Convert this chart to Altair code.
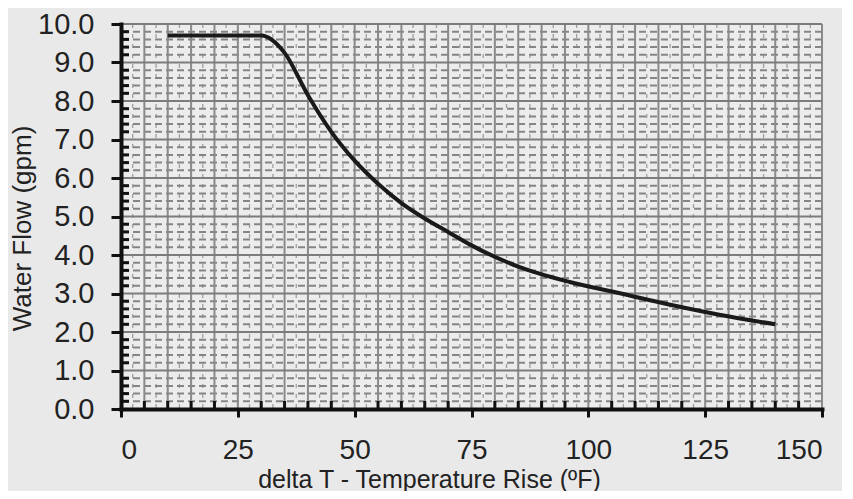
import altair as alt
import pandas as pd

# Curve
delta_t = [10, 30, 35, 40, 45, 50, 55, 60, 65, 70, 75, 85, 96, 107, 117, 128, 140]
flow = [9.7, 9.7, 9.25, 8.15, 7.2, 6.45, 5.85, 5.35, 4.95, 4.6, 4.25, 3.7, 3.3, 3.0, 2.72, 2.45, 2.2]

# Axis ticks / grid positions
x_labels = [0, 25, 50, 75, 100, 125, 150]
y_labels = [0, 1, 2, 3, 4, 5, 6, 7, 8, 9, 10]
x_grid_major = list(range(5, 155, 5))
x_grid_minor = [2.5 + 5 * i for i in range(30)]
y_grid_major = list(range(1, 11))
y_grid_minor = [round(i * 0.2, 1) for i in range(1, 50) if i % 5]
x_minor_ticks = [v for v in range(5, 150, 5) if v % 25]

W, H = 701, 385
FONT = "Liberation Sans"

xs = alt.Scale(domain=[0, 150], nice=False, zero=False)
ys = alt.Scale(domain=[0, 10], nice=False, zero=False)

xaxis = alt.Axis(
    values=x_labels, format="d", grid=False, zindex=2,
    title="delta T - Temperature Rise (ºF)",
    titleFont=FONT, titleFontSize=25, titleFontWeight="normal", titleColor="#222222",
    titleX=308, titleY=58, titleBaseline="top", titleAlign="center",
    labelFont=FONT, labelFontSize=28, labelColor="#222222", labelPadding=19,
    tickSize=8, tickWidth=3, tickColor="#111111",
    domainColor="#111111", domainWidth=4, domainCap="square",
)
yaxis = alt.Axis(
    values=y_labels, format=".1f", grid=False, zindex=2,
    title="Water Flow (gpm)",
    titleFont=FONT, titleFontSize=26, titleFontWeight="normal", titleColor="#222222",
    titleX=-99, titleY=204, titleAngle=-90, titleAlign="center", titleBaseline="middle",
    labelFont=FONT, labelFontSize=29, labelColor="#222222", labelPadding=17,
    tickSize=10, tickWidth=3, tickColor="#111111",
    domainColor="#111111", domainWidth=4, domainCap="square",
)


def X(field):
    return alt.X(field, scale=xs, axis=xaxis)


def Y(field):
    return alt.Y(field, scale=ys, axis=yaxis)


grid_minor_h = alt.Chart(pd.DataFrame({"v": y_grid_minor})).mark_rule(
    color="#858585", strokeWidth=2, strokeDash=[7, 4]
).encode(y=Y("v:Q"))

grid_minor_v = alt.Chart(pd.DataFrame({"v": x_grid_minor})).mark_rule(
    color="#a0a0a0", strokeWidth=1.3, strokeDash=[4, 6]
).encode(x=X("v:Q"))

grid_major_h = alt.Chart(pd.DataFrame({"v": y_grid_major})).mark_rule(
    color="#7c7c7c", strokeWidth=2
).encode(y=Y("v:Q"))

grid_major_v = alt.Chart(pd.DataFrame({"v": x_grid_major})).mark_rule(
    color="#8a8a8a", strokeWidth=2
).encode(x=X("v:Q"))

x_minor = alt.Chart(pd.DataFrame({"v": x_minor_ticks})).mark_rule(
    color="#111111", strokeWidth=3
).encode(x=X("v:Q"), y=alt.value(H), y2=alt.value(H - 8))

y_minor = alt.Chart(pd.DataFrame({"v": y_grid_minor})).mark_rule(
    color="#111111", strokeWidth=3
).encode(y=Y("v:Q"), x=alt.value(0), x2=alt.value(8))

line = alt.Chart(pd.DataFrame({"t": delta_t, "f": flow})).mark_line(
    color="#1a1a1a", strokeWidth=4, interpolate="monotone"
).encode(x=X("t:Q"), y=Y("f:Q"))

chart = alt.layer(
    grid_minor_v, grid_minor_h, grid_major_v, grid_major_h, x_minor, y_minor, line
).properties(
    width=W, height=H,
    autosize=alt.AutoSizeParams(type="none"),
    padding={"left": 113, "top": 16, "right": 20, "bottom": 82},
    background="#e9e9e9",
).configure_view(stroke=None, fill="#ececec")

chart.save("out.html", embed_options={"renderer": "svg", "actions": False})
